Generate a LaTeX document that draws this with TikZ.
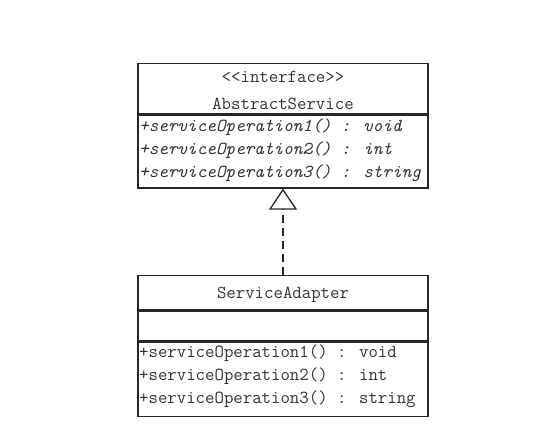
\documentclass[tikz,border=0pt]{standalone}
\usepackage{fontspec}
\usetikzlibrary{arrows.meta}
\begin{document}
\begin{tikzpicture}[x=1pt,y=-1pt,
  box/.style={draw=black!85,line width=1.3pt,minimum width=290pt,inner sep=0pt,anchor=north},
  txt/.style={font=\ttfamily\fontsize{18.3}{23}\selectfont,text=black!80,inner sep=0pt},
  ops/.style={txt,anchor=base west},
  ttl/.style={txt,anchor=base},
  realize/.style={draw=black!85,line width=1.3pt,dash pattern=on 8pt off 5pt,
    -{Triangle[open,length=21pt,width=28pt,line width=1.3pt]}}]
\useasboundingbox (0,0) rectangle (559,447);
% AbstractService
\node[box,minimum height=50pt] (ahead) at (283,63) {};
\node[box,minimum height=73pt] (aops) at (ahead.south) {};
\node[ttl] (astereo) at (283,82) {<{}<interface>{}>};
\node[ttl] (aname) at (283,109) {AbstractService};
\node[ops,font=\ttfamily\itshape\fontsize{18.3}{23}\selectfont] (aop1) at (139,131) {+serviceOperation1() : void};
\node[ops,font=\ttfamily\itshape\fontsize{18.3}{23}\selectfont] (aop2) at (139,154) {+serviceOperation2() : int};
\node[ops,font=\ttfamily\itshape\fontsize{18.3}{23}\selectfont] (aop3) at (139,177) {+serviceOperation3() : string};
% ServiceAdapter
\node[box,minimum height=34pt] (shead) at (283,275) {};
\node[box,minimum height=30pt] (sattr) at (shead.south) {};
\node[box,minimum height=74pt] (sops) at (sattr.south) {};
\node[ttl] (sname) at (283,298) {ServiceAdapter};
\node[ops] (sop1) at (139,357) {+serviceOperation1() : void};
\node[ops] (sop2) at (139,380) {+serviceOperation2() : int};
\node[ops] (sop3) at (139,403) {+serviceOperation3() : string};
% realization
\draw[realize] (shead.north) -- (aops.south);
\end{tikzpicture}
\end{document}
